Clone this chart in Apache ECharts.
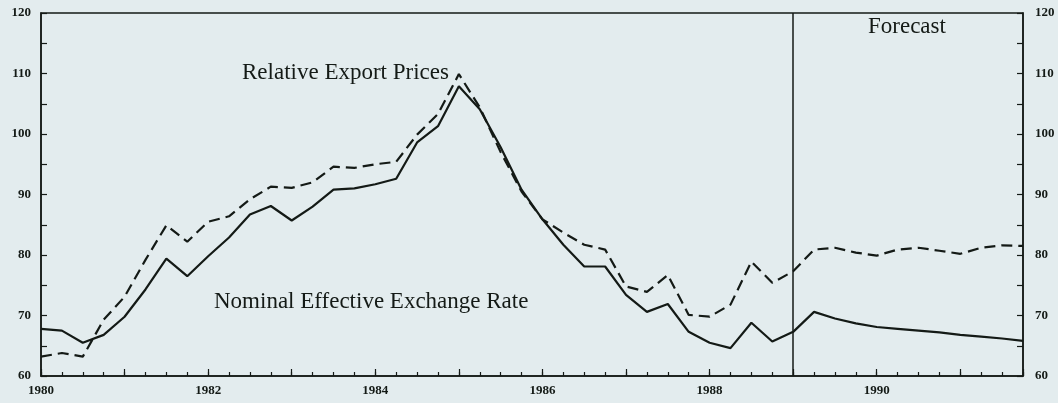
<!DOCTYPE html>
<html>
<head>
<meta charset="utf-8">
<script src="https://cdn.jsdelivr.net/npm/echarts@6/dist/echarts.min.js"></script>
<style>
  html, body { margin: 0; padding: 0; background: #e3ecee; }
  #chart { width: 1058px; height: 403px; }
</style>
</head>
<body>
<div id="chart"></div>
<script>
// quarterly observations, 1980Q1 .. 1991Q4
const quarters = [];
for (let y = 1980; y <= 1991; y++) {
  for (let q = 0; q < 4; q++) quarters.push(y + q * 0.25);
}

const nominalRate = [
  67.8, 67.5, 65.5, 66.8, 69.8, 74.3, 79.4, 76.5,
  79.8, 82.9, 86.7, 88.1, 85.7, 88.0, 90.8, 91.0,
  91.7, 92.6, 98.6, 101.3, 107.9, 104.1, 97.8, 90.8,
  85.9, 81.7, 78.1, 78.1, 73.4, 70.6, 71.9, 67.3,
  65.5, 64.6, 68.8, 65.7, 67.3, 70.6, 69.5, 68.7,
  68.1, 67.8, 67.5, 67.2, 66.8, 66.5, 66.2, 65.8
];

const exportPrices = [
  63.2, 63.8, 63.2, 69.3, 73.1, 79.2, 84.9, 82.2,
  85.5, 86.4, 89.2, 91.3, 91.1, 92.0, 94.6, 94.4,
  95.0, 95.4, 99.9, 103.3, 109.9, 104.4, 97.0, 90.5,
  85.9, 83.7, 81.7, 80.9, 74.8, 73.9, 76.7, 70.1,
  69.8, 71.8, 78.9, 75.4, 77.3, 80.9, 81.2, 80.4,
  79.9, 80.9, 81.2, 80.7, 80.2, 81.2, 81.6, 81.5
];

const forecastStart = 1989;
const yMin = 60, yMax = 120;

const ink = '#141a16';
const serif = 'Liberation Serif';

const chart = echarts.init(document.getElementById('chart'));

const yAxisCommon = {
  type: 'value',
  min: yMin,
  max: yMax,
  interval: 5,
  axisLine: { show: true, lineStyle: { color: ink, width: 1.5 } },
  axisTick: { show: true, inside: true, length: 6, lineStyle: { color: ink, width: 1.2 } },
  splitLine: { show: false },
  axisLabel: {
    color: ink, fontFamily: serif, fontWeight: 'bold', fontSize: 13,
    formatter: v => (v % 10 === 0 ? String(v) : '')
  }
};

chart.setOption({
  animation: false,
  backgroundColor: '#e3ecee',
  grid: {
    left: 41, right: 35, top: 13, bottom: 27,
    show: true, borderColor: ink, borderWidth: 1.5, backgroundColor: 'transparent'
  },
  xAxis: [
    {
      type: 'value', min: 1980, max: 1991.75, interval: 0.25,
      axisLine: { show: true, lineStyle: { color: ink, width: 1.5 } },
      axisTick: { show: true, inside: true, length: 4, lineStyle: { color: ink, width: 1.2 } },
      axisLabel: { show: false },
      splitLine: { show: false }
    },
    {
      type: 'value', min: 1980, max: 1991.75, interval: 1, position: 'bottom',
      axisLine: { show: false },
      axisTick: { show: true, inside: true, length: 7, lineStyle: { color: ink, width: 1.2 } },
      axisLabel: {
        color: ink, fontFamily: serif, fontWeight: 'bold', fontSize: 13, margin: 8,
        formatter: v => (v % 2 === 0 ? String(v) : '')
      },
      splitLine: { show: false }
    }
  ],
  yAxis: [
    Object.assign({ position: 'left' }, yAxisCommon, {
      axisLabel: Object.assign({}, yAxisCommon.axisLabel, { margin: 10 })
    }),
    Object.assign({ position: 'right' }, yAxisCommon, {
      axisLabel: Object.assign({}, yAxisCommon.axisLabel, { margin: 12 })
    })
  ],
  series: [
    {
      name: 'Nominal Effective Exchange Rate',
      type: 'line',
      data: quarters.map((t, i) => [t, nominalRate[i]]),
      showSymbol: false,
      lineStyle: { color: ink, width: 2.2 },
      markLine: {
        silent: true,
        symbol: 'none',
        label: { show: false },
        lineStyle: { color: ink, width: 1.5, type: 'solid' },
        data: [{ xAxis: forecastStart }]
      }
    },
    {
      name: 'Relative Export Prices',
      type: 'line',
      data: quarters.map((t, i) => [t, exportPrices[i]]),
      showSymbol: false,
      lineStyle: { color: ink, width: 2.2, type: [11, 6] }
    }
  ],
  graphic: [
    { type: 'text', left: 242, top: 61, style: { text: 'Relative Export Prices', font: '23px "Liberation Serif"', fill: ink } },
    { type: 'text', left: 214, top: 290, style: { text: 'Nominal Effective Exchange Rate', font: '23px "Liberation Serif"', fill: ink } },
    { type: 'text', left: 868, top: 15, style: { text: 'Forecast', font: '23px "Liberation Serif"', fill: ink } }
  ]
});
</script>
</body>
</html>
